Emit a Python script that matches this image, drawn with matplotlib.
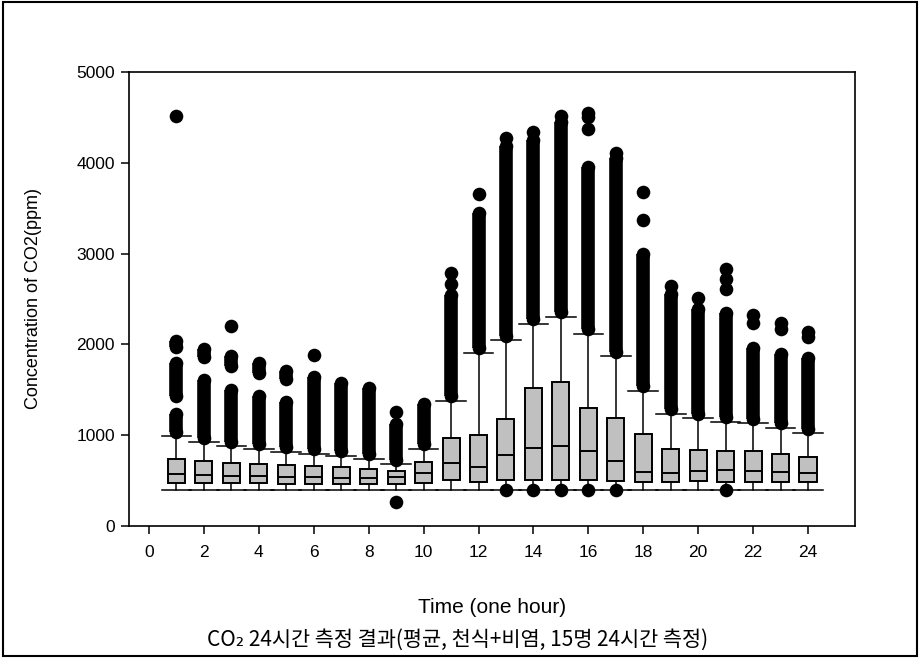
import matplotlib
matplotlib.use("Agg")
import matplotlib.pyplot as plt
from matplotlib.patches import Rectangle

plt.rcParams['font.family'] = ['Liberation Sans', 'DejaVu Sans']

hours = list(range(1, 25))
q1 = [473, 473, 470, 470, 468, 468, 466, 465, 459, 477, 507, 488,
      507, 507, 507, 507, 499, 488, 488, 495, 488, 488, 488, 488]
med = [569, 562, 554, 547, 543, 540, 532, 528, 536, 580, 697, 646,
       779, 863, 878, 826, 712, 598, 580, 609, 613, 602, 591, 580]
q3 = [734, 716, 698, 683, 668, 661, 646, 628, 602, 708, 966, 1002,
      1175, 1516, 1582, 1296, 1186, 1009, 852, 837, 830, 822, 789, 756]
whis_lo = [400] * 24
whis_hi = [991, 921, 881, 848, 819, 793, 775, 738, 683, 851, 1380, 1909,
           2045, 2229, 2306, 2115, 1872, 1490, 1237, 1186, 1145, 1130, 1083, 1024]

# outliers that merge into solid columns: (lowest, highest) per run
outlier_runs = [
    [(1040, 1230), (1430, 1790), (1970, 2040)],
    [(970, 1608), (1865, 1953)],
    [(930, 1500), (1765, 1870)],
    [(900, 1430), (1685, 1795)],
    [(870, 1370), (1620, 1707)],
    [(845, 1644)],
    [(825, 1575)],
    [(790, 1523)],
    [(730, 1123)],
    [(900, 1345)],
    [(1430, 2545)],
    [(1960, 3450)],
    [(2095, 4180)],
    [(2280, 4250)],
    [(2360, 4450)],
    [(2165, 3950)],
    [(1920, 4050)],
    [(1540, 3000)],
    [(1290, 2560)],
    [(1235, 2390)],
    [(1195, 2350)],
    [(1180, 1964)],
    [(1130, 1894)],
    [(1070, 1850)],
]
# separate outlier dots
outlier_points = [
    [4515], [], [2206], [], [], [1878], [], [], [1259, 268], [],
    [2670, 2790], [3660], [4275, 400], [4340, 400], [4520, 400],
    [4370, 4500, 4550, 400], [4110, 400], [3370, 3680], [2640], [2510],
    [2610, 2720, 2830, 400], [2240, 2320], [2170, 2240], [2080, 2140],
]

fig = plt.figure(figsize=(9.2, 6.58), dpi=100)
ax = fig.add_axes([0.1402, 0.2006, 0.7891, 0.69])

dot = 9.8
stats = []
for i, h in enumerate(hours):
    stats.append(dict(med=med[i], q1=q1[i], q3=q3[i], whislo=whis_lo[i],
                      whishi=whis_hi[i], fliers=outlier_points[i], label=str(h)))

for i, h in enumerate(hours):
    for lo, hi in outlier_runs[i]:
        ax.vlines(h, lo, hi, color='black', lw=dot, zorder=1)
        ax.plot([h, h], [lo, hi], 'o', color='black', ms=dot, mew=0, zorder=1)

ax.bxp(stats, positions=hours, widths=0.62, capwidths=1.08, patch_artist=True,
       boxprops=dict(facecolor='#c0c0c0', edgecolor='black', lw=1.4),
       medianprops=dict(color='black', lw=1.4),
       whiskerprops=dict(color='black', lw=1.1),
       capprops=dict(color='black', lw=1.1),
       flierprops=dict(marker='o', markerfacecolor='black', markeredgecolor='black',
                       markersize=dot, mew=0),
       manage_ticks=False, zorder=2)

ax.set_xlim(-0.73, 25.71)
ax.set_ylim(0, 5000)
ax.set_xticks(range(0, 25, 2))
ax.set_yticks(range(0, 5001, 1000))
ax.tick_params(direction='out', length=6, width=1.1, labelsize=12.5)
ax.tick_params(axis='y', pad=4)
ax.tick_params(axis='x', pad=8)
for s in ax.spines.values():
    s.set_linewidth(1.2)

ax.set_xlabel('Time (one hour)', fontsize=15, labelpad=27)
ax.set_ylabel('Concentration of CO2(ppm)', fontsize=13, labelpad=25)

fig.text(0.497, 0.027, 'CO₂ 24시간 측정 결과(평균, 천식+비염, 15명 24시간 측정)',
         ha='center', va='center', fontsize=15,
         family=['Noto Sans CJK KR', 'DejaVu Sans'])

fig.patches.append(Rectangle((0.0035, 0.003), 0.993, 0.994, transform=fig.transFigure,
                             fill=False, edgecolor='black', lw=1.5))

fig.savefig('out.png', dpi=100)
